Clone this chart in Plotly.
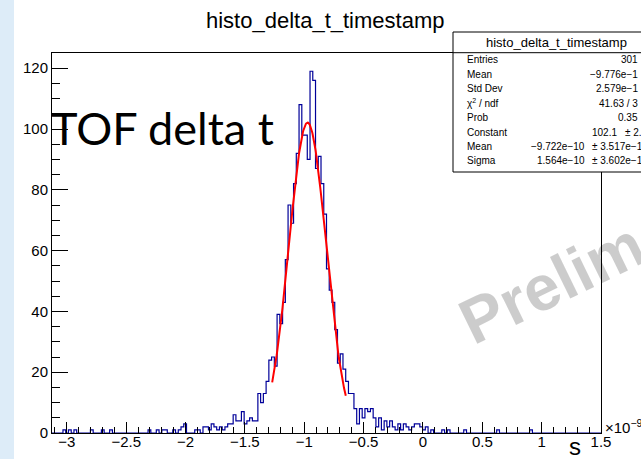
import numpy as np
import plotly.graph_objects as go

# histogram binning (units of 1e-9 s)
n_bins = 200
x_min, x_max = -3.125, 1.5

# counts per bin (bin index -> entries)
filled_bins = [4, 6, 8, 14, 18, 21, 35, 38, 40, 41, 44, 46, 47, 48, 52, 53, 55, 56, 57, 58,
               59, 60, 61, 62, 63, 64, 65, 66, 67, 68, 69, 70, 71, 72, 73, 74, 75, 76, 77, 78,
               79, 80, 81, 82, 83, 84, 85, 86, 87, 88, 89, 90, 91, 92, 93, 94, 95, 96, 97, 98,
               99, 100, 101, 102, 103, 104, 105, 106, 107, 108, 109, 110, 111, 112, 113, 114,
               115, 116, 117, 118, 119, 120, 121, 122, 123, 124, 125, 126, 127, 128, 129, 130,
               131, 132, 133, 134, 135, 136, 138, 142, 144, 150, 162, 174]
filled_counts = [1, 1, 1, 1, 1, 1, 1, 1, 1, 1, 1, 1, 2, 3, 1, 1, 2, 2, 1, 3,
                 2, 1, 2, 1, 2, 3, 3, 6, 4, 4, 7, 3, 4, 5, 4, 4, 13, 10, 13, 17,
                 24, 25, 22, 39, 36, 43, 57, 75, 69, 82, 92, 108, 98, 98, 90, 119, 116, 87, 91, 82,
                 72, 54, 47, 43, 34, 23, 26, 21, 17, 13, 13, 8, 3, 8, 5, 8,
                 7, 8, 5, 2, 5, 1, 4, 2, 4, 2, 1, 3, 1, 3, 2, 1,
                 2, 3, 3, 2, 1, 2, 1, 1, 1, 1, 1, 1]

# gaussian fit parameters from the stats box
fit_const = 102.1
fit_mean = -0.9722
fit_sigma = 0.1564
fit_range = (-1.27, -0.65)

stats_labels = ["Entries", "Mean", "Std Dev", "\u03c7<sup>2</sup> / ndf", "Prob",
                "Constant", "Mean", "Sigma"]
stats_values = ["301", "\u22129.776e\u22121", "2.579e\u22121", "41.63 / 3", "0.35",
                "102.1", "\u22129.722e\u221210", "1.564e\u221210"]
stats_errors = ["", "", "", "", "", "\u00b1 2.", "\u00b1 3.517e\u22121", "\u00b1 3.602e\u22121"]

counts = np.zeros(n_bins)
counts[filled_bins] = filled_counts
edges = np.linspace(x_min, x_max, n_bins + 1)

W, H = 641, 459
L, R, T, B = 52, 601, 53, 433


def px2x(px):
    return (px - L) / (R - L)


def px2y(py):
    return (B - py) / (B - T)


fig = go.Figure()
fig.add_trace(go.Scatter(
    x=edges, y=np.append(counts, counts[-1]), mode="lines",
    line=dict(color="#000099", width=1.2, shape="hv"), hoverinfo="skip"))

xf = np.linspace(fit_range[0], fit_range[1], 200)
yf = fit_const * np.exp(-0.5 * ((xf - fit_mean) / fit_sigma) ** 2)
fig.add_trace(go.Scatter(x=xf, y=yf, mode="lines",
                         line=dict(color="#ff0000", width=2), hoverinfo="skip"))

font = "Liberation Sans, Arial, sans-serif"
fig.update_layout(
    width=W, height=H, showlegend=False,
    paper_bgcolor="white", plot_bgcolor="white",
    margin=dict(l=L, r=W - R, t=T, b=H - B, pad=0),
    font=dict(family=font, color="black"),
)
fig.update_xaxes(
    range=[x_min, x_max], showgrid=False, zeroline=False, automargin=False,
    showline=True, linecolor="black", linewidth=1, mirror=True,
    tickmode="linear", tick0=-3, dtick=0.5, ticks="inside", ticklen=11,
    tickcolor="black", tickfont=dict(size=15), ticklabelstandoff=-5,
    minor=dict(tick0=-3, dtick=0.1, ticks="inside", ticklen=6, tickcolor="black"),
)
fig.update_yaxes(
    range=[0, 125], showgrid=False, zeroline=False, automargin=False,
    showline=True, linecolor="black", linewidth=1, mirror=True,
    tickmode="linear", tick0=0, dtick=20, ticks="inside", ticklen=16,
    tickcolor="black", tickfont=dict(size=15),
    minor=dict(tick0=0, dtick=5, ticks="inside", ticklen=8, tickcolor="black"),
)

shapes = [
    # light blue strip on the left edge
    dict(type="rect", xref="paper", yref="paper", x0=px2x(0), x1=px2x(14),
         y0=px2y(H), y1=px2y(0), fillcolor="#ddecf8", line=dict(width=0), layer="below"),
    # stats box
    dict(type="rect", xref="paper", yref="paper", x0=px2x(453), x1=px2x(665),
         y0=px2y(172), y1=px2y(32), fillcolor="white", line=dict(color="black", width=1),
         layer="above"),
    dict(type="line", xref="paper", yref="paper", x0=px2x(453), x1=px2x(665),
         y0=px2y(52.7), y1=px2y(52.7), line=dict(color="black", width=1), layer="above"),
]
fig.update_layout(shapes=shapes)

ann = []
ann.append(dict(text="histo_delta_t_timestamp", x=px2x(325), y=px2y(20),
                font=dict(size=22)))
ann.append(dict(text="histo_delta_t_timestamp", x=px2x(556), y=px2y(43),
                font=dict(size=13)))
for i, (lab, val, err) in enumerate(zip(stats_labels, stats_values, stats_errors)):
    yy = px2y(60 + i * 14.4)
    ann.append(dict(text=lab, x=px2x(465), y=yy, xanchor="left", font=dict(size=10)))
    if err:
        ann.append(dict(text=val, x=px2x(619 if i == 5 else 587), y=yy, xanchor="right",
                        font=dict(size=10)))
        ann.append(dict(text=err, x=px2x(623 if i == 5 else 590), y=yy, xanchor="left",
                        font=dict(size=10)))
    else:
        ann.append(dict(text=val, x=px2x(640), y=yy, xanchor="right", font=dict(size=10)))

ann.append(dict(text="\u00d710<sup>\u22129</sup>", x=px2x(603), y=px2y(426),
                xanchor="left", font=dict(size=15)))
ann.append(dict(text="s", x=px2x(575), y=px2y(447), font=dict(size=24)))
ann.append(dict(text="TOF delta t", x=px2x(49), y=px2y(128), xanchor="left",
                font=dict(size=45, family="Lato, sans-serif")))
# watermark, only the part that is visible in the picture
ann.append(dict(text="<b>Prelim</b>", x=px2x(552), y=px2y(283), textangle=-26,
                font=dict(size=64, color="rgba(0,0,0,0.2)")))

for a in ann:
    a.setdefault("xanchor", "center")
    a.update(xref="paper", yref="paper", showarrow=False, yanchor="middle")
fig.update_layout(annotations=ann)

fig.write_html("out.html", config={"displayModeBar": False},
               post_script="document.body.style.margin='0px';")
